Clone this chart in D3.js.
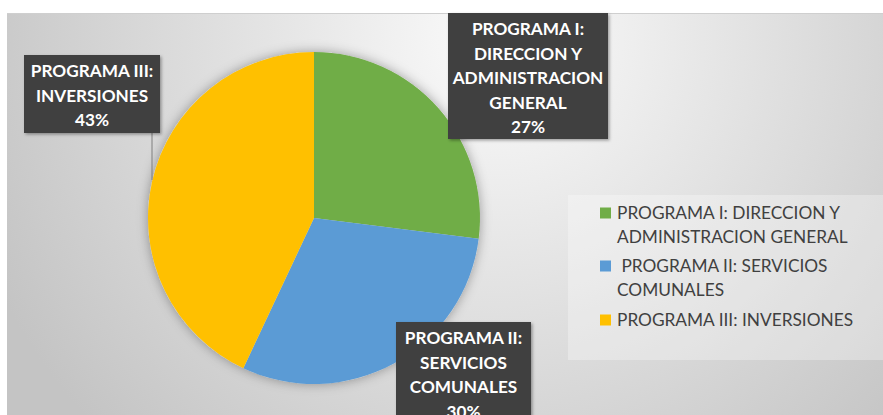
<!DOCTYPE html>
<html>
  <head>
    <meta charset="utf-8">
    <title>Programas - pie</title>
    <script src="https://d3js.org/d3.v7.min.js"></script>
    <style>
      body { margin: 0; background: #fff; }
      svg { display: block; }
    </style>
  </head>
  <body>
    <svg></svg>
    <script>
      // data
      const categories = ['PROGRAMA I: DIRECCION Y ADMINISTRACION GENERAL', 'PROGRAMA II: SERVICIOS COMUNALES', 'PROGRAMA III: INVERSIONES'];
      const values = [27, 30, 43];
      const colors = ['#70ad47', '#5b9bd5', '#ffc000'];
      const labelLines = [
        ['PROGRAMA I:', 'DIRECCION Y', 'ADMINISTRACION', 'GENERAL'],
        ['PROGRAMA II:', 'SERVICIOS', 'COMUNALES'],
        ['PROGRAMA III:', 'INVERSIONES']
      ];
      const legendLines = [
        ['PROGRAMA I: DIRECCION Y', 'ADMINISTRACION GENERAL'],
        ['\u00a0PROGRAMA II: SERVICIOS', 'COMUNALES'],
        ['PROGRAMA III: INVERSIONES']
      ];

      const width = 883, height = 415;
      const svg = d3.select('svg').attr('width', width).attr('height', height);

      const defs = svg.append('defs');
      const grad = defs.append('radialGradient')
        .attr('id', 'bg').attr('gradientUnits', 'userSpaceOnUse')
        .attr('cx', 500).attr('cy', 40).attr('r', 560);
      grad.append('stop').attr('offset', '0%').attr('stop-color', '#fbfbfb');
      grad.append('stop').attr('offset', '100%').attr('stop-color', '#c4c4c4');

      const shadow = defs.append('filter').attr('id', 'glow')
        .attr('x', '-20%').attr('y', '-20%').attr('width', '140%').attr('height', '140%');
      shadow.append('feDropShadow').attr('dx', 0).attr('dy', 0)
        .attr('stdDeviation', 6).attr('flood-color', '#000').attr('flood-opacity', 0.35);

      const boxShadow = defs.append('filter').attr('id', 'boxshadow')
        .attr('x', '-10%').attr('y', '-10%').attr('width', '130%').attr('height', '130%');
      boxShadow.append('feDropShadow').attr('dx', 1.5).attr('dy', 1.5)
        .attr('stdDeviation', 1.5).attr('flood-color', '#000').attr('flood-opacity', 0.35);

      // chart area
      svg.append('rect')
        .attr('x', 7).attr('y', 13)
        .attr('width', width - 7).attr('height', height - 13)
        .attr('fill', 'url(#bg)');
      svg.append('line')
        .attr('x1', 7).attr('x2', width).attr('y1', 13.5).attr('y2', 13.5)
        .attr('stroke', '#cfcfcf');

      // legend panel
      svg.append('rect')
        .attr('x', 568).attr('y', 195).attr('width', width - 568).attr('height', 165)
        .attr('fill', '#fff').attr('opacity', 0.3);

      const cx = 314, cy = 218, radius = 166;

      const pie = d3.pie().sort(null).value(d => d)(values);
      const arc = d3.arc().innerRadius(0).outerRadius(radius);

      const g = svg.append('g').attr('transform', `translate(${cx},${cy})`);

      g.append('circle').attr('r', radius).attr('fill', '#ddd').attr('filter', 'url(#glow)');

      g.selectAll('path').data(pie)
        .enter().append('path')
          .attr('d', arc)
          .attr('fill', (d, i) => colors[i]);

      // leader line for programa III
      svg.append('line')
        .attr('x1', 152).attr('x2', 152).attr('y1', 133).attr('y2', 180)
        .attr('stroke', '#7f7f7f').attr('stroke-width', 1);

      // data labels
      const labelBoxes = [
        { x: 448, y: 13, w: 160, h: 126 },
        { x: 396, y: 322, w: 135, h: 102 },
        { x: 24, y: 55, w: 136, h: 78 }
      ];
      const lineH = 24.5;
      pie.forEach((d, i) => {
        const b = labelBoxes[i];
        const lg = svg.append('g');
        lg.append('rect')
          .attr('x', b.x).attr('y', b.y).attr('width', b.w).attr('height', b.h)
          .attr('fill', '#404040').attr('filter', 'url(#boxshadow)');
        const lines = labelLines[i].concat([Math.round(d.value / d3.sum(values) * 100) + '%']);
        lg.selectAll('text').data(lines)
          .enter().append('text')
            .attr('x', b.x + b.w / 2)
            .attr('y', (t, j) => b.y + 16 + j * lineH)
            .attr('dy', '0.35em')
            .attr('text-anchor', 'middle')
            .attr('fill', '#fff')
            .style('font-family', 'Lato, "Open Sans", sans-serif')
            .style('font-weight', 'bold')
            .style('font-size', '17.2px')
            .text(t => t);
      });

      // legend
      const legendY = [213, 266, 320];
      const legend = svg.append('g').attr('transform', 'translate(600,0)');
      categories.forEach((c, i) => {
        const item = legend.append('g').attr('transform', `translate(0,${legendY[i]})`);
        item.append('rect')
          .attr('x', 0).attr('y', -5.5).attr('width', 11).attr('height', 11)
          .attr('fill', colors[i]);
        item.selectAll('text').data(legendLines[i])
          .enter().append('text')
            .attr('x', 17)
            .attr('y', (t, j) => j * 23.5)
            .attr('dy', '0.35em')
            .attr('fill', '#404040')
            .style('font-family', 'Lato, "Open Sans", sans-serif')
            .style('font-size', '17.3px')
            .text(t => t);
      });
    </script>
  </body>
</html>
